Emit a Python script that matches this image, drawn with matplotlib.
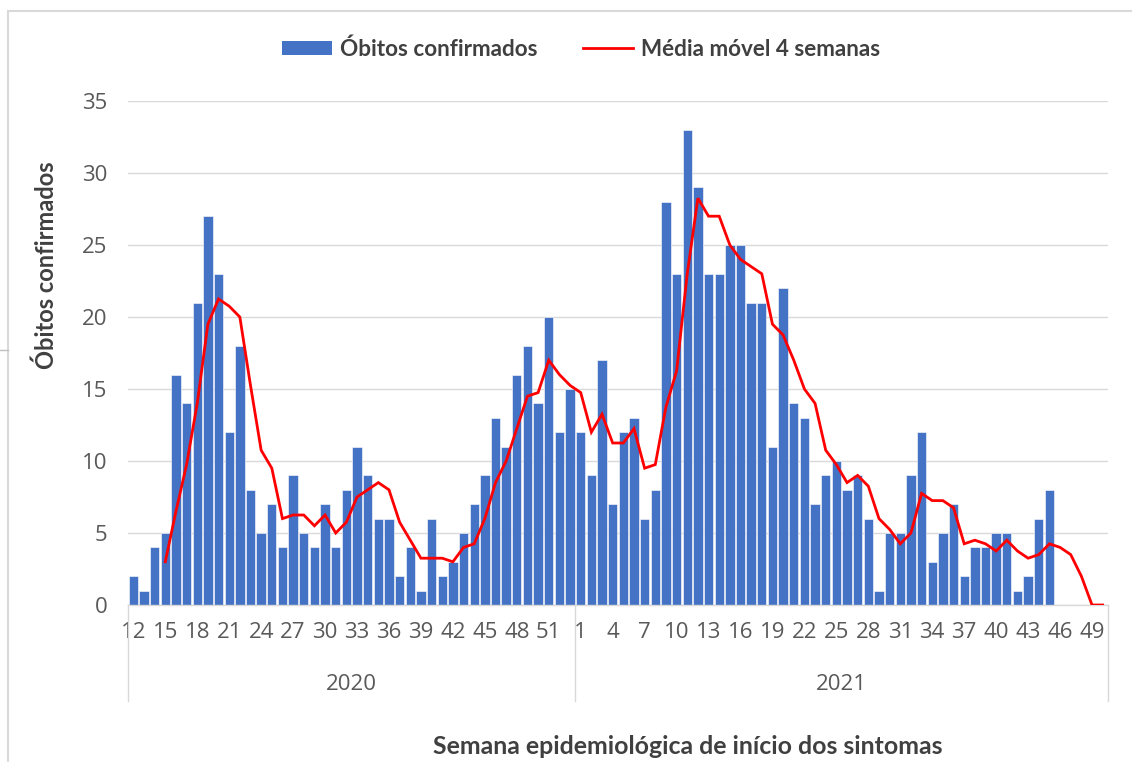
import matplotlib
matplotlib.use("Agg")
import matplotlib.pyplot as plt
from matplotlib.patches import Patch
from matplotlib.lines import Line2D

# ---- data ----
weeks_2020 = [12, 13, 14, 15, 16, 17, 18, 19, 20, 21, 22, 23, 24, 25, 26, 27, 28, 29, 30, 31, 32,
              33, 34, 35, 36, 37, 38, 39, 40, 41, 42, 43, 44, 45, 46, 47, 48, 49, 50, 51, 52, 53]
weeks_2021 = [1, 2, 3, 4, 5, 6, 7, 8, 9, 10, 11, 12, 13, 14, 15, 16, 17, 18, 19, 20, 21, 22, 23, 24, 25,
              26, 27, 28, 29, 30, 31, 32, 33, 34, 35, 36, 37, 38, 39, 40, 41, 42, 43, 44, 45, 46, 47, 48, 49, 50]
deaths_2020 = [2, 1, 4, 5, 16, 14, 21, 27, 23, 12, 18, 8, 5, 7, 4, 9, 5, 4, 7, 4, 8,
               11, 9, 6, 6, 2, 4, 1, 6, 2, 3, 5, 7, 9, 13, 11, 16, 18, 14, 20, 12, 15]
deaths_2021 = [12, 9, 17, 7, 12, 13, 6, 8, 28, 23, 33, 29, 23, 23, 25, 25, 21, 21, 11, 22, 14, 13, 7, 9, 10,
               8, 9, 6, 1, 5, 5, 9, 12, 3, 5, 7, 2, 4, 4, 5, 5, 1, 2, 6, 8, 0, 0, 0, 0, 0]
# 4-week moving average (starts at 2020 week 15)
ma_2020 = [3, 6.5, 9.75, 14, 19.5, 21.25, 20.75, 20, 15.25, 10.75, 9.5, 6, 6.25, 6.25, 5.5, 6.25, 5, 5.75,
           7.5, 8, 8.5, 8, 5.75, 4.5, 3.25, 3.25, 3.25, 3, 4, 4.25, 6, 8.5, 10, 12.25, 14.5, 14.75, 17, 16, 15.25]
ma_2021 = [14.75, 12, 13.25, 11.25, 11.25, 12.25, 9.5, 9.75, 13.75, 16.25, 23, 28.25, 27, 27, 25, 24, 23.5,
           23, 19.5, 18.75, 17, 15, 14, 10.75, 9.75, 8.5, 9, 8.25, 6, 5.25, 4.25, 5, 7.75, 7.25, 7.25, 6.75,
           4.25, 4.5, 4.25, 3.75, 4.5, 3.75, 3.25, 3.5, 4.25, 4, 3.5, 2, 0, 0]
years = ["2020", "2021"]

labels = [str(w) for w in weeks_2020] + [str(w) for w in weeks_2021]
deaths = deaths_2020 + deaths_2021
ma = ma_2020 + ma_2021
x = list(range(len(labels)))
ma_x = x[len(x) - len(ma):]

W, H = 1132, 762
fig = plt.figure(figsize=(W / 100, H / 100), dpi=100)
fig.patch.set_facecolor("white")

L, R, T, B = 128, 1108, 101, 605
ax = fig.add_axes([L / W, 1 - B / H, (R - L) / W, (B - T) / H])

TICK_FONT = "Open Sans"
LBL_FONT = "Lato"
tick_col = "#595959"
lbl_col = "#404040"
grid_col = "#d9d9d9"
TS = 16

ax.bar(x, deaths, width=0.88, color="#4472C4", edgecolor="white", linewidth=0.4, zorder=2,
       label="Óbitos confirmados")
ax.plot(ma_x, ma, color="#FF0000", lw=2.0, zorder=3, label="Média móvel 4 semanas",
        solid_joinstyle="miter")

ax.set_xlim(-0.5, len(x) - 0.5)
ax.set_ylim(0, 35)
ax.set_yticks(range(0, 36, 5))
ax.yaxis.grid(True, color=grid_col, lw=1.0, zorder=0)
ax.set_axisbelow(True)
for s in ["top", "right", "left"]:
    ax.spines[s].set_visible(False)
ax.spines["bottom"].set_color(grid_col)
ax.spines["bottom"].set_linewidth(1.0)

tick_pos = x[::3]
ax.set_xticks(tick_pos)
ax.set_xticklabels([labels[i] for i in tick_pos])
ax.tick_params(axis="x", length=0, pad=12, labelsize=TS, labelcolor=tick_col)
ax.tick_params(axis="y", length=0, pad=15, labelsize=TS, labelcolor=tick_col)
for t in ax.get_xticklabels() + ax.get_yticklabels():
    t.set_fontfamily(TICK_FONT)

# year group separators and labels
xt = ax.get_xaxis_transform()
n20 = len(weeks_2020)
for xs in [-0.5, n20 - 0.5, len(x) - 0.5]:
    ax.plot([xs, xs], [0, -0.19], color=grid_col, lw=1.0, transform=xt, clip_on=False)
ax.text((n20 - 1) / 2, -0.158, years[0], transform=xt, ha="center", va="center",
        fontsize=TS, color=tick_col, family=TICK_FONT)
ax.text(n20 + (len(weeks_2021) - 1) / 2, -0.158, years[1], transform=xt, ha="center", va="center",
        fontsize=TS, color=tick_col, family=TICK_FONT)

# axis titles
fig.text(688 / W, 1 - 746 / H, "Semana epidemiológica de início dos sintomas", ha="center", va="center",
         fontsize=17.9, fontweight="bold", color=lbl_col, family=LBL_FONT)
fig.text(46 / W, 1 - 265 / H, "Óbitos confirmados", ha="center", va="center", rotation=90,
         fontsize=17, fontweight="bold", color=lbl_col, family=LBL_FONT)

# legend
handles = [Patch(facecolor="#4472C4", edgecolor="none", label="Óbitos confirmados"),
           Line2D([0], [0], color="#FF0000", lw=2.0, label="Média móvel 4 semanas")]
leg = fig.legend(handles=handles, loc="center", bbox_to_anchor=(581 / W, 1 - 49 / H), ncol=2,
                 frameon=False, prop={"family": LBL_FONT, "weight": "bold", "size": 16.2},
                 handlelength=2.25, handleheight=0.55, handletextpad=0.35, columnspacing=2.0)
for t in leg.get_texts():
    t.set_color(lbl_col)

# chart border (top and left)
fig.add_artist(Line2D([8 / W, 8 / W], [0, 1 - 11 / H], color="#d9d9d9", lw=1.5, transform=fig.transFigure))
fig.add_artist(Line2D([8 / W, 1], [1 - 11 / H, 1 - 11 / H], color="#d9d9d9", lw=1.5, transform=fig.transFigure))
fig.add_artist(Line2D([0, 8 / W], [1 - 350 / H, 1 - 350 / H], color="#bfbfbf", lw=1.0, transform=fig.transFigure))

fig.savefig("out.png", dpi=100, facecolor="white")
